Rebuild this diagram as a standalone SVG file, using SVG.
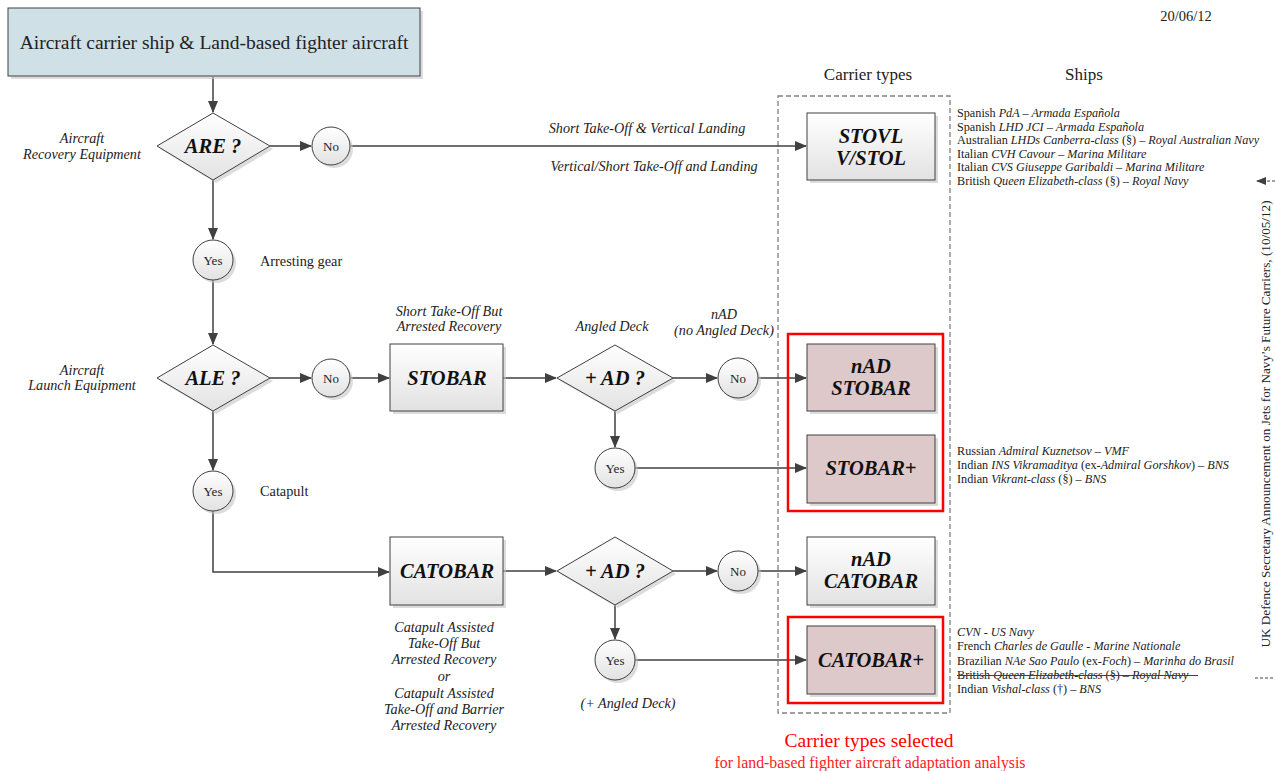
<svg xmlns="http://www.w3.org/2000/svg" width="1275" height="771" viewBox="0 0 1275 771" font-family="'Liberation Serif', 'DejaVu Serif', serif">
<defs>
<linearGradient id="g" x1="0" y1="0" x2="0" y2="1"><stop offset="0" stop-color="#ffffff"/><stop offset="1" stop-color="#e2e2e2"/></linearGradient>
<marker id="ah" markerWidth="12" markerHeight="10" refX="11" refY="5" orient="auto" markerUnits="userSpaceOnUse"><path d="M0,0 L12,5 L0,10 Z" fill="#404040"/></marker>
<marker id="ahd" markerWidth="10" markerHeight="8" refX="10" refY="4" orient="auto" markerUnits="userSpaceOnUse"><path d="M0,0 L10,4 L0,8 Z" fill="#404040"/></marker>
</defs>
<style>
text{font-family:'Liberation Serif','DejaVu Serif',serif;fill:#222}
.sh{fill:#c4c4c4;opacity:.6}
.box{fill:url(#g);stroke:#404040;stroke-width:1}
.pink{fill:#ddc8ca;stroke:#404040;stroke-width:1}
.lbl{font-size:20.5px;font-weight:bold;font-style:italic;text-anchor:middle;fill:#111}
.it{font-style:italic;font-size:14.2px;text-anchor:middle}
.yn{font-size:13px;text-anchor:middle}
.ship{font-size:12.2px}
.c{fill:none;stroke:#404040;stroke-width:1.5}
.red{fill:none;stroke:#ff0000;stroke-width:2.5}
</style>
<text x="1186" y="21" font-size="14.5" text-anchor="middle">20/06/12</text>
<text x="868" y="80" font-size="17" text-anchor="middle">Carrier types</text>
<text x="1084" y="80" font-size="17" text-anchor="middle">Ships</text>
<rect x="778" y="96" width="172" height="617" fill="none" stroke="#808080" stroke-width="1.3" stroke-dasharray="5,3"/>
<g id="connectors">
<path class="c" d="M213,77 V112" marker-end="url(#ah)"/>
<path class="c" d="M270,146 H311" marker-end="url(#ah)"/>
<path class="c" d="M351,146 H806" marker-end="url(#ah)"/>
<path class="c" d="M213,180 V239" marker-end="url(#ah)"/>
<path class="c" d="M213,280 V344" marker-end="url(#ah)"/>
<path class="c" d="M270,378 H311" marker-end="url(#ah)"/>
<path class="c" d="M351,378 H389" marker-end="url(#ah)"/>
<path class="c" d="M503,378 H556" marker-end="url(#ah)"/>
<path class="c" d="M673,378 H717" marker-end="url(#ah)"/>
<path class="c" d="M758,378 H806" marker-end="url(#ah)"/>
<path class="c" d="M615,411 V447" marker-end="url(#ah)"/>
<path class="c" d="M635,468 H806" marker-end="url(#ah)"/>
<path class="c" d="M213,411 V470" marker-end="url(#ah)"/>
<path class="c" d="M213,511 V572 H389" marker-end="url(#ah)"/>
<path class="c" d="M503,571 H556" marker-end="url(#ah)"/>
<path class="c" d="M673,571 H717" marker-end="url(#ah)"/>
<path class="c" d="M758,571 H806" marker-end="url(#ah)"/>
<path class="c" d="M615,605 V639" marker-end="url(#ah)"/>
<path class="c" d="M635,660 H806" marker-end="url(#ah)"/>
</g>
<g id="title">
<rect class="sh" x="11" y="11" width="412" height="68"/>
<rect x="8" y="8" width="412" height="68" fill="#cfe0e6" stroke="#404040" stroke-width="1"/>
<text x="214" y="49" font-size="19.5" text-anchor="middle">Aircraft carrier ship &amp; Land-based fighter aircraft</text>
</g>
<g id="are">
<polygon class="sh" points="216,116 273,149 216,183 160,149"/>
<polygon class="box" points="213,113 270,146 213,180 157,146"/>
<text class="lbl" x="213" y="153" font-size="19.5">ARE ?</text>
<text class="it" x="82" y="143">Aircraft</text>
<text class="it" x="82" y="159">Recovery Equipment</text>
</g>
<g id="no1">
<circle class="sh" cx="334" cy="149" r="19"/>
<circle class="box" cx="331" cy="146" r="19"/>
<text class="yn" x="331" y="150.5">No</text>
</g>
<text class="it" x="647" y="133">Short Take-Off &amp; Vertical Landing</text>
<text class="it" x="654" y="171">Vertical/Short Take-Off and Landing</text>
<g id="stovl">
<rect class="sh" x="810" y="116" width="128" height="67"/>
<rect class="box" x="807" y="113" width="128" height="67"/>
<text class="lbl" x="871" y="143">STOVL</text>
<text class="lbl" x="871" y="165">V/STOL</text>
</g>
<g id="yes1">
<circle class="sh" cx="216" cy="263" r="20"/>
<circle class="box" cx="213" cy="260" r="20"/>
<text class="yn" x="213" y="264.5">Yes</text>
</g>
<text x="260" y="265.5" font-size="14.3">Arresting gear</text>
<g id="ale">
<polygon class="sh" points="216,348 273,381 216,414 160,381"/>
<polygon class="box" points="213,345 270,378 213,411 157,378"/>
<text class="lbl" x="213" y="385" font-size="19.5">ALE ?</text>
<text class="it" x="82" y="375">Aircraft</text>
<text class="it" x="82" y="390">Launch Equipment</text>
</g>
<g id="no2">
<circle class="sh" cx="334" cy="381" r="19"/>
<circle class="box" cx="331" cy="378" r="19"/>
<text class="yn" x="331" y="382.5">No</text>
</g>
<g id="stobar">
<rect class="sh" x="393" y="347" width="113" height="67"/>
<rect class="box" x="390" y="344" width="113" height="67"/>
<text class="lbl" x="447" y="385">STOBAR</text>
<text class="it" x="449" y="316">Short Take-Off But</text>
<text class="it" x="449" y="331">Arrested Recovery</text>
</g>
<g id="ad1">
<polygon class="sh" points="618,348 676,381 618,414 560,381"/>
<polygon class="box" points="615,345 673,378 615,411 557,378"/>
<text class="lbl" x="615" y="385" font-size="19.5">+ AD ?</text>
<text class="it" x="612" y="331">Angled Deck</text>
</g>
<g id="no3">
<circle class="sh" cx="741" cy="381" r="20"/>
<circle class="box" cx="738" cy="378" r="20"/>
<text class="yn" x="738" y="382.5">No</text>
<text class="it" x="724" y="319">nAD</text>
<text class="it" x="724" y="335">(no Angled Deck)</text>
</g>
<g id="nadstobar">
<rect class="sh" x="810" y="347" width="128" height="67"/>
<rect class="pink" x="807" y="344" width="128" height="67"/>
<text class="lbl" x="871" y="373">nAD</text>
<text class="lbl" x="871" y="395">STOBAR</text>
</g>
<g id="yes3">
<circle class="sh" cx="618" cy="471" r="20"/>
<circle class="box" cx="615" cy="468" r="20"/>
<text class="yn" x="615" y="472.5">Yes</text>
</g>
<g id="stobarplus">
<rect class="sh" x="810" y="438" width="128" height="68"/>
<rect class="pink" x="807" y="435" width="128" height="68"/>
<text class="lbl" x="871" y="475">STOBAR+</text>
</g>
<rect class="red" x="788" y="334" width="155" height="177"/>
<g id="yes2">
<circle class="sh" cx="216" cy="494" r="20"/>
<circle class="box" cx="213" cy="491" r="20"/>
<text class="yn" x="213" y="495.5">Yes</text>
</g>
<text x="260" y="495.5" font-size="14.3">Catapult</text>
<g id="catobar">
<rect class="sh" x="393" y="540" width="113" height="68"/>
<rect class="box" x="390" y="537" width="113" height="68"/>
<text class="lbl" x="447" y="578">CATOBAR</text>
<text class="it" x="444" y="632">Catapult Assisted</text>
<text class="it" x="444" y="648">Take-Off But</text>
<text class="it" x="444" y="664">Arrested Recovery</text>
<text class="it" x="444" y="681">or</text>
<text class="it" x="444" y="698">Catapult Assisted</text>
<text class="it" x="444" y="714">Take-Off and Barrier</text>
<text class="it" x="444" y="730">Arrested Recovery</text>
</g>
<g id="ad2">
<polygon class="sh" points="618,540 676,574 618,608 560,574"/>
<polygon class="box" points="615,537 673,571 615,605 557,571"/>
<text class="lbl" x="615" y="578" font-size="19.5">+ AD ?</text>
</g>
<g id="no4">
<circle class="sh" cx="741" cy="574" r="20"/>
<circle class="box" cx="738" cy="571" r="20"/>
<text class="yn" x="738" y="575.5">No</text>
</g>
<g id="nadcatobar">
<rect class="sh" x="810" y="540" width="128" height="68"/>
<rect class="box" x="807" y="537" width="128" height="68"/>
<text class="lbl" x="871" y="566">nAD</text>
<text class="lbl" x="871" y="588">CATOBAR</text>
</g>
<g id="yes4">
<circle class="sh" cx="618" cy="663" r="20"/>
<circle class="box" cx="615" cy="660" r="20"/>
<text class="yn" x="615" y="664.5">Yes</text>
</g>
<text class="it" x="628" y="708">(+ Angled Deck)</text>
<g id="catobarplus">
<rect class="sh" x="810" y="629" width="128" height="68"/>
<rect class="pink" x="807" y="626" width="128" height="68"/>
<text class="lbl" x="871" y="667">CATOBAR+</text>
</g>
<rect class="red" x="788" y="617" width="155" height="86"/>
<g id="ships1">
<text class="ship" x="957" y="117">Spanish <tspan font-style="italic">PdA – Armada Española</tspan></text>
<text class="ship" x="957" y="130.5">Spanish <tspan font-style="italic">LHD JCI – Armada Española</tspan></text>
<text class="ship" x="957" y="144">Australian <tspan font-style="italic">LHDs Canberra-class</tspan> (§) – <tspan font-style="italic">Royal Australian Navy</tspan></text>
<text class="ship" x="957" y="157.5">Italian <tspan font-style="italic">CVH Cavour – Marina Militare</tspan></text>
<text class="ship" x="957" y="171">Italian <tspan font-style="italic">CVS Giuseppe Garibaldi – Marina Militare</tspan></text>
<text class="ship" x="957" y="185">British <tspan font-style="italic">Queen Elizabeth-class</tspan> (§) – <tspan font-style="italic">Royal Navy</tspan></text>
</g>
<g id="ships2">
<text class="ship" x="957" y="455">Russian <tspan font-style="italic">Admiral Kuznetsov – VMF</tspan></text>
<text class="ship" x="957" y="469">Indian <tspan font-style="italic">INS Vikramaditya</tspan> (ex-<tspan font-style="italic">Admiral Gorshkov</tspan>) – <tspan font-style="italic">BNS</tspan></text>
<text class="ship" x="957" y="482.5">Indian <tspan font-style="italic">Vikrant-class</tspan> (§) – <tspan font-style="italic">BNS</tspan></text>
</g>
<g id="ships3">
<text class="ship" x="957" y="636"><tspan font-style="italic">CVN - US Navy</tspan></text>
<text class="ship" x="957" y="650">French <tspan font-style="italic">Charles de Gaulle - Marine Nationale</tspan></text>
<text class="ship" x="957" y="665">Brazilian <tspan font-style="italic">NAe Sao Paulo</tspan> (ex-<tspan font-style="italic">Foch</tspan>) – <tspan font-style="italic">Marinha do Brasil</tspan></text>
<text class="ship" x="957" y="679">British <tspan font-style="italic">Queen Elizabeth-class</tspan> (§) – <tspan font-style="italic">Royal Navy</tspan></text>
<line x1="957" y1="675.5" x2="1198" y2="675.5" stroke="#404040" stroke-width="1.2"/>
<text class="ship" x="957" y="692.5">Indian <tspan font-style="italic">Vishal-class</tspan> (†) – <tspan font-style="italic">BNS</tspan></text>
</g>
<g id="announcement">
<path d="M1275,181 H1256" fill="none" stroke="#404040" stroke-width="1" stroke-dasharray="3,2" marker-end="url(#ahd)"/>
<path d="M1255,678 H1275" fill="none" stroke="#404040" stroke-width="1" stroke-dasharray="3,2"/>
<text x="1270" y="424" font-size="13.2" text-anchor="middle" transform="rotate(-90 1270 424)">UK Defence Secretary Announcement on Jets for Navy’s Future Carriers, (10/05/12)</text>
</g>
<text x="869" y="747" font-size="19.5" text-anchor="middle" style="fill:#ff0000">Carrier types selected</text>
<text x="870" y="768" font-size="15.8" text-anchor="middle" style="fill:#ff2020">for land-based fighter aircraft adaptation analysis</text>
</svg>
